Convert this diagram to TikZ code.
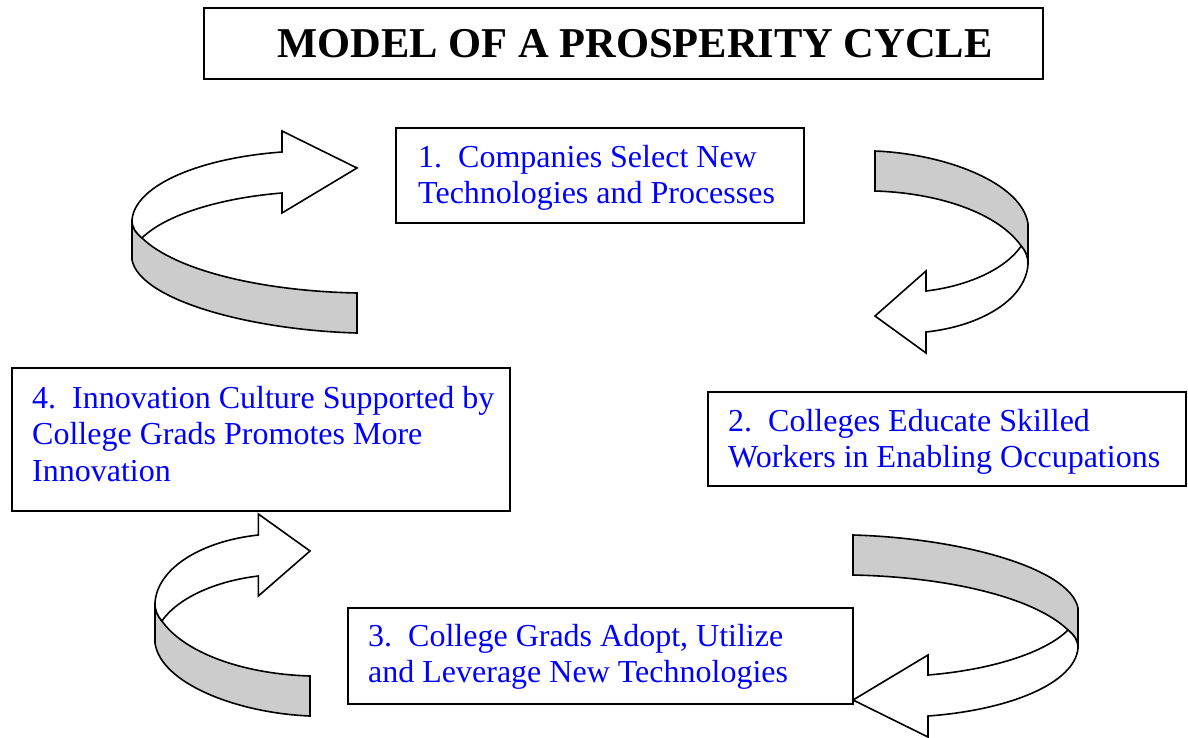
\documentclass[tikz,border=0pt]{standalone}
\usepackage{fontspec}
\setmainfont{Liberation Serif}
\definecolor{bandgray}{RGB}{204,204,204}
\definecolor{txtblue}{RGB}{0,0,255}
\tikzset{
  boxframe/.style={draw=black, line width=2pt, fill=white, inner sep=0pt, anchor=north west},
  steptext/.style={text=txtblue, font=\fontsize{32}{36.5}\selectfont, align=left, anchor=north west, inner sep=0pt},
  titletext/.style={text=black, font=\bfseries\fontsize{42.5}{48}\selectfont, anchor=base west, inner sep=0pt},
  ribbon/.style={draw=black, line width=1.6pt, line join=miter},
  face/.style={ribbon, fill=white},
  band/.style={ribbon, fill=bandgray},
}
\newcommand\prosparrow{%
  \draw[band] (0,89) -- (0,129) .. controls (8,169) and (118,199) .. (225,202)
     -- (225,162) .. controls (128,160) and (43,139) .. (10,107)
     .. controls (4,102) and (0,97) .. (0,89) -- cycle;
  \draw[face] (225,37) -- (150,0) -- (150,21) .. controls (68,27) and (3,54) .. (0,89)
     .. controls (0,97) and (4,102) .. (10,107)
     .. controls (33,84) and (88,67) .. (150,62) -- (150,82) -- cycle;
}
\begin{document}
\begin{tikzpicture}[x=1pt, y=-1pt]
\useasboundingbox[fill=white] (0,0) rectangle (1188,737);

% curved arrows
\begin{scope}[shift={(132,131)}]
  \prosparrow
\end{scope}
\begin{scope}[shift={(1028,353)}, xscale=-0.68, yscale=-1]
  \prosparrow
\end{scope}
\begin{scope}[shift={(1078,737)}, xscale=-1, yscale=-1]
  \prosparrow
\end{scope}
\begin{scope}[shift={(155,514)}, xscale=0.689]
  \prosparrow
\end{scope}

% title
\node[boxframe, minimum width=839pt, minimum height=71pt] (titlebox) at (203,7) {};
\node[titletext] (title) at (277,57) {MODEL OF A PROSPERITY CYCLE};

% step boxes
\node[boxframe, minimum width=408pt, minimum height=95pt] (b1) at (395,127) {};
\node[boxframe, minimum width=478pt, minimum height=94pt] (b2) at (707,391) {};
\node[boxframe, minimum width=505pt, minimum height=96pt] (b3) at (347,607) {};
\node[boxframe, minimum width=498pt, minimum height=143pt] (b4) at (11,367) {};

\node[steptext] (t1) at (418,141.45) {\strut 1.\ \ Companies Select New\\Technologies and Processes};
\node[steptext] (t2) at (728,405.45) {\strut 2.\ \ Colleges Educate Skilled\\Workers in Enabling Occupations};
\node[steptext] (t3) at (368,620.45) {\strut 3.\ \ College Grads Adopt, Utilize\\and Leverage New Technologies};
\node[steptext] (t4) at (32,382.45) {\strut 4.\ \ Innovation Culture Supported by\\College Grads Promotes More\\Innovation};
\end{tikzpicture}
\end{document}
